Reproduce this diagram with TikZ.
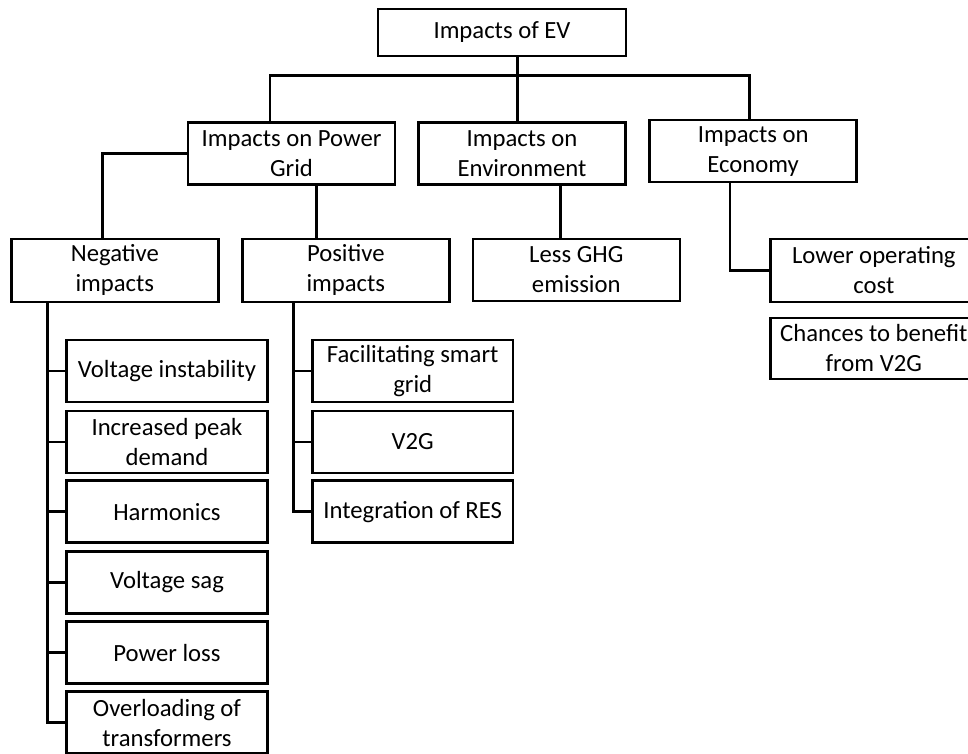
\documentclass[tikz,border=0pt]{standalone}
\usepackage{fontspec}
\setmainfont{Carlito}
\begin{document}
\begin{tikzpicture}[x=1pt,y=-1pt,
  bx/.style={draw=black,line width=2.5pt,fill=white,inner sep=0pt,align=center,
    minimum height=62pt,font=\fontsize{24.7}{30}\selectfont},
  wide/.style={minimum width=207pt},
  kid/.style={minimum width=200.6pt},
  ln/.style={draw=black,line width=2.5pt}]
\clip (0,0) rectangle (968,753);
\fill[white] (0,0) rectangle (968,753);
% level 0
\node[bx,minimum width=248pt,minimum height=47pt] (top) at (502,32.5) {Impacts of EV};
% level 1
\node[bx,wide] (pg)  at (291.5,153.5) {Impacts on Power\\Grid};
\node[bx,wide] (env) at (522,153.5) {Impacts on\\Environment};
\node[bx,wide] (eco) at (753.2,151.2) {Impacts on\\Economy};
% level 2
\node[bx,wide,minimum height=63pt] (neg) at (114.8,270.3) {Negative\\impacts};
\node[bx,wide,minimum height=63pt] (pos) at (345.8,270.3) {Positive\\impacts};
\node[bx,wide] (ghg) at (576.3,270) {Less GHG\\emission};
\node[bx,minimum width=206.3pt,minimum height=63pt] (low) at (873.8,270.3) {Lower operating\\cost};
\node[bx,minimum width=206.3pt,minimum height=61pt] (chn) at (873.8,348.3) {Chances to benefit\\from V2G};
% negative children
\node[bx,kid] (n1) at (167,371.2) {Voltage instability};
\node[bx,kid] (n2) at (167,442) {Increased peak\\demand};
\node[bx,kid] (n3) at (167,511.7) {Harmonics};
\node[bx,kid] (n4) at (167,582.3) {Voltage sag};
\node[bx,kid] (n5) at (167,652.7) {Power loss};
\node[bx,kid] (n6) at (167,722.6) {Overloading of\\transformers};
% positive children
\node[bx,kid] (p1) at (412.7,371.2) {Facilitating smart\\grid};
\node[bx,kid] (p2) at (412.7,442) {V2G};
\node[bx,kid] (p3) at (412.7,511.7) {Integration of RES};
% junction coordinates
\coordinate (jt) at (517.7,75.7);
\coordinate (jl) at (270,75.7);
\coordinate (jr) at (749.7,75.7);
\coordinate (jpg) at (102.3,153.7);
\coordinate (jpos) at (316.7,200);
\coordinate (jghg) at (560.7,200);
\coordinate (jeco) at (730,270.7);
\coordinate (tn) at (47.3,300);
\coordinate (tp) at (293.3,300);
% connectors
\draw[ln] (top.south -| jt) -- (jt);
\draw[ln,line cap=rect] (jl) -- (jr);
\draw[ln] (jl) -- (pg.north -| jl);
\draw[ln] (jt) -- (env.north -| jt);
\draw[ln] (jr) -- (eco.north -| jr);
\draw[ln] (pg.west |- jpg) -- (jpg) -- (neg.north -| jpg);
\draw[ln] (pg.south -| jpos) -- (pos.north -| jpos);
\draw[ln] (env.south -| jghg) -- (ghg.north -| jghg);
\draw[ln] (eco.south -| jeco) -- (jeco) -- (low.west |- jeco);
\draw[ln] (neg.south -| tn) -- (tn |- n6.west) -- (n6.west);
\foreach \n in {n1,n2,n3,n4,n5} \draw[ln] (tn |- \n.west) -- (\n.west);
\draw[ln] (pos.south -| tp) -- (tp |- p3.west) -- (p3.west);
\foreach \n in {p1,p2} \draw[ln] (tp |- \n.west) -- (\n.west);
\end{tikzpicture}
\end{document}
